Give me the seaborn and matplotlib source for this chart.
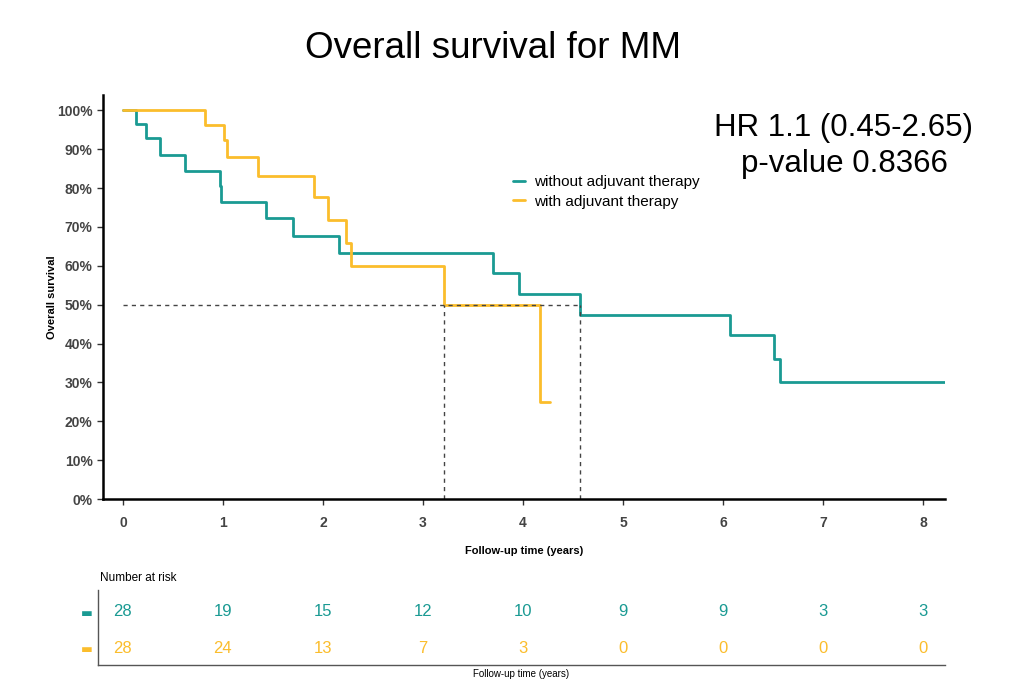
import numpy as np
import pandas as pd
import seaborn as sns
import matplotlib.pyplot as plt
from matplotlib.ticker import PercentFormatter

# groups and colours
groups = ["without adjuvant therapy", "with adjuvant therapy"]
colors = ["#1a9a93", "#fbbd2c"]

# Kaplan-Meier steps (years, survival after the step)
t_without = [0, 0.13, 0.23, 0.37, 0.62, 0.97, 0.98, 1.43, 1.70, 2.16, 3.70, 3.96,
             4.57, 6.07, 6.51, 6.57, 8.23]
s_without = [1.0, 0.964, 0.928, 0.885, 0.844, 0.806, 0.764, 0.723, 0.678, 0.632,
             0.581, 0.527, 0.474, 0.422, 0.361, 0.302, 0.302]
t_with = [0, 0.82, 1.01, 1.04, 1.35, 1.91, 2.05, 2.23, 2.28, 3.21, 4.17, 4.27]
s_with = [1.0, 0.962, 0.923, 0.881, 0.832, 0.778, 0.718, 0.658, 0.599, 0.498,
          0.25, 0.25]

# median survival times
medians = [4.57, 3.21]

# number at risk table
risk_times = [0, 1, 2, 3, 4, 5, 6, 7, 8]
risk_without = [28, 19, 15, 12, 10, 9, 9, 3, 3]
risk_with = [28, 24, 13, 7, 3, 0, 0, 0, 0]

df = pd.concat([
    pd.DataFrame({"time": t_without, "surv": s_without, "group": groups[0]}),
    pd.DataFrame({"time": t_with, "surv": s_with, "group": groups[1]}),
])

sns.set_style("white")
plt.rcParams['font.family'] = ['Liberation Sans', 'DejaVu Sans']
plt.rcParams['text.color'] = 'black'

fig = plt.figure(figsize=(10.2, 6.85), dpi=100)
ax = fig.add_axes([0.101, 0.2715, 0.8255, 0.59])
ax2 = fig.add_axes([0.096, 0.029, 0.8305, 0.11])

sns.lineplot(data=df, x="time", y="surv", hue="group", hue_order=groups,
             palette=colors, drawstyle="steps-post", estimator=None,
             linewidth=2, ax=ax)

# median lines
ax.hlines(0.5, 0, max(medians), colors="#444444", linestyles=(0, (3, 3)), lw=1)
ax.vlines(medians, 0, 0.5, colors="#444444", linestyles=(0, (3, 3)), lw=1)

ax.set_xlim(-0.2, 8.22)
ax.set_ylim(0, 1.04)
ax.set_xticks(range(0, 9))
ax.set_yticks(np.arange(0, 1.01, 0.1))
ax.yaxis.set_major_formatter(PercentFormatter(1.0, decimals=0))
for lab in ax.get_xticklabels() + ax.get_yticklabels():
    lab.set_fontweight("bold")
    lab.set_color("#444444")
    lab.set_fontsize(10)
ax.tick_params(axis="both", direction="out", length=4, width=1, color="#333333",
               bottom=True, left=True)
ax.tick_params(axis="x", pad=8)
sns.despine(ax=ax)
for sp in ["left", "bottom"]:
    ax.spines[sp].set_linewidth(1.8)
    ax.spines[sp].set_color("black")

ax.set_xlabel("Follow-up time (years)", fontsize=8, fontweight="bold",
              color="black", labelpad=12)
ax.set_ylabel("Overall survival", fontsize=8, fontweight="bold",
              color="black", labelpad=0)

leg = ax.legend(loc="upper left", bbox_to_anchor=(0.47, 0.835), frameon=False,
                handlelength=0.8, handletextpad=0.6, labelspacing=0.35,
                prop={"size": 11})
for txt in leg.get_texts():
    txt.set_color("black")

ax.text(0.88, 0.955, "HR 1.1 (0.45-2.65)\np-value 0.8366", transform=ax.transAxes,
        ha="center", va="top", fontsize=22.5, linespacing=1.25, color="black")

fig.suptitle("Overall survival for MM", x=0.483, y=0.955, fontsize=26.5,
             color="black")

# risk table
for i, (vals, c) in enumerate([(risk_without, colors[0]), (risk_with, colors[1])]):
    row = 1 - i
    for t, v in zip(risk_times, vals):
        ax2.text(t, row, str(v), color=c, ha="center", va="center", fontsize=12)
ax2.set_xlim(-0.25, 8.22)
ax2.set_ylim(-0.47, 1.61)
ax2.set_xticks([])
ax2.set_yticks([1, 0])
ax2.set_yticklabels(["\u25ac", "\u25ac"], family="DejaVu Sans", fontsize=9)
for lab, c in zip(ax2.get_yticklabels(), colors):
    lab.set_color(c)
ax2.tick_params(axis="y", length=0, pad=4)
sns.despine(ax=ax2)
for sp in ["left", "bottom"]:
    ax2.spines[sp].set_linewidth(1)
    ax2.spines[sp].set_color("#555555")
ax2.set_xlabel("Follow-up time (years)", fontsize=7, color="black", labelpad=3)
fig.text(0.098, 1 - 578 / 685, "Number at risk", fontsize=8.5, va="center")

fig.savefig("out.png", dpi=100)
